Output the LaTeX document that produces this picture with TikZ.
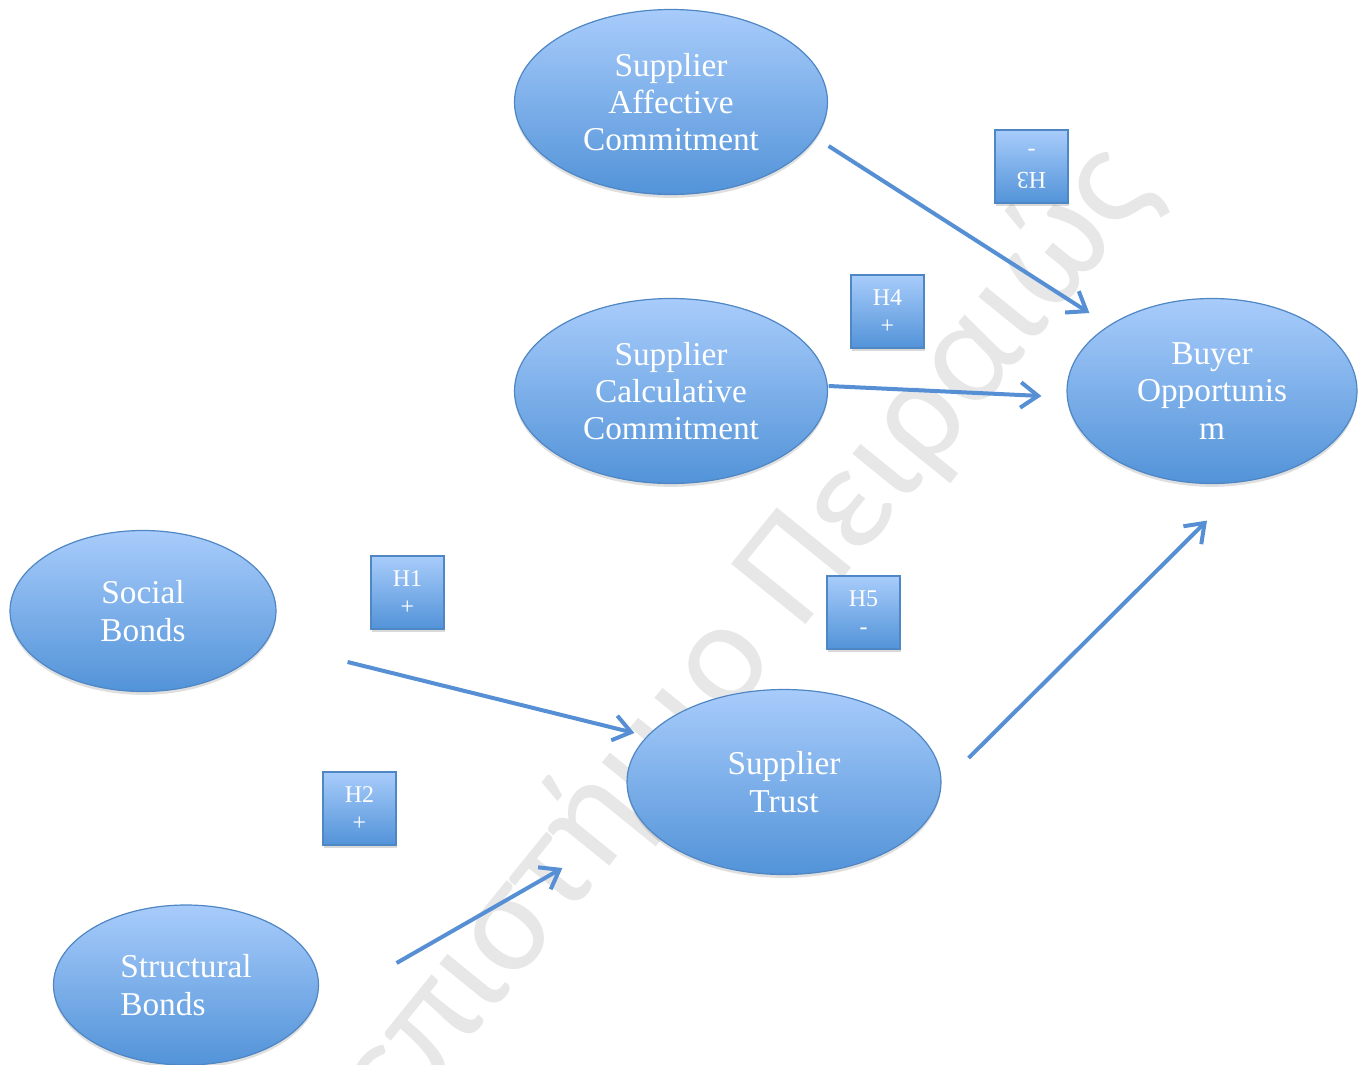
\documentclass[tikz,border=0pt]{standalone}
\usepackage{fontspec}
\setmainfont{Liberation Serif}
\newfontfamily\wmfont{Carlito}
\usetikzlibrary{shapes.geometric,arrows.meta,shadows}
\def\pxunit{0.75pt}
\definecolor{topc}{RGB}{168,204,251}
\definecolor{botc}{RGB}{82,147,216}
\definecolor{edgec}{RGB}{79,134,196}
\definecolor{arrc}{RGB}{86,143,212}
\definecolor{wmc}{RGB}{231,231,231}
\tikzset{
  ell/.style={ellipse, draw=edgec, line width=0.9pt, top color=topc, bottom color=botc,
    text=white, inner sep=0pt, align=center,
    font=\fontsize{25}{28}\selectfont,
    drop shadow={opacity=0.25, shadow xshift=0pt, shadow yshift=-2.5pt}},
  hbox/.style={rectangle, draw=edgec, line width=1pt, top color=topc, bottom color=botc,
    text=white, inner sep=0pt, align=center, minimum size=73*\pxunit,
    font=\fontsize{18}{21}\selectfont,
    drop shadow={opacity=0.3, shadow xshift=1pt, shadow yshift=-2pt}},
  conn/.style={draw=arrc, line width=3pt, -{Straight Barb[length=13pt,width=19pt]}},
}
\begin{document}
\begin{tikzpicture}[x=0.75pt,y=-0.75pt]
\useasboundingbox (0,0) rectangle (1360,1064);
\begin{scope}
\clip (0,0) rectangle (1360,1064);
\node[font=\wmfont\fontsize{112}{112}\selectfont, text=wmc, rotate=51, anchor=base east, inner sep=0pt] (wm) at (1158,190) {Πανεπιστήμιο Πειραιώς};
\end{scope}

\node[ell, minimum width=313*\pxunit, minimum height=185*\pxunit] (aff) at (671,102) {Supplier\\Affective\\Commitment};
\node[ell, minimum width=313*\pxunit, minimum height=185*\pxunit] (calc) at (671,391) {Supplier\\Calculative\\Commitment};
\node[ell, minimum width=290*\pxunit, minimum height=185*\pxunit] (buyer) at (1212,391) {Buyer\\Opportunis\\m};
\node[ell, minimum width=266*\pxunit, minimum height=161*\pxunit] (social) at (143,611) {Social\\Bonds};
\node[ell, minimum width=314*\pxunit, minimum height=185*\pxunit] (trust) at (784,782) {Supplier\\Trust};
\node[ell, minimum width=265*\pxunit, minimum height=160*\pxunit, align=left] (struct) at (186,985) {Structural\\Bonds};

\node[hbox, rotate=180] (h3) at (1031.5,166.5) {H3\\-};
\node[hbox] (h4) at (887.5,311.5) {H4\\+};
\node[hbox] (h1) at (407.5,592.5) {H1\\+};
\node[hbox] (h5) at (863.5,612.5) {H5\\-};
\node[hbox] (h2) at (359.5,808.5) {H2\\+};

\draw[conn] ([shift={(0.5,44)}]aff.east) -- ([shift={(23,-78)}]buyer.west);
\draw[conn] ([shift={(0.5,-5)}]calc.east) -- ([shift={(-25,5)}]buyer.west);
\draw[conn] ([shift={(71,51)}]social.east) -- ([shift={(8,-49)}]trust.west);
\draw[conn] ([shift={(77.5,-22)}]struct.east) -- ([shift={(-64,86)}]trust.west);
\draw[conn] ([shift={(27,-24)}]trust.east) -- ([shift={(-5,36.5)}]buyer.south);
\end{tikzpicture}
\end{document}
